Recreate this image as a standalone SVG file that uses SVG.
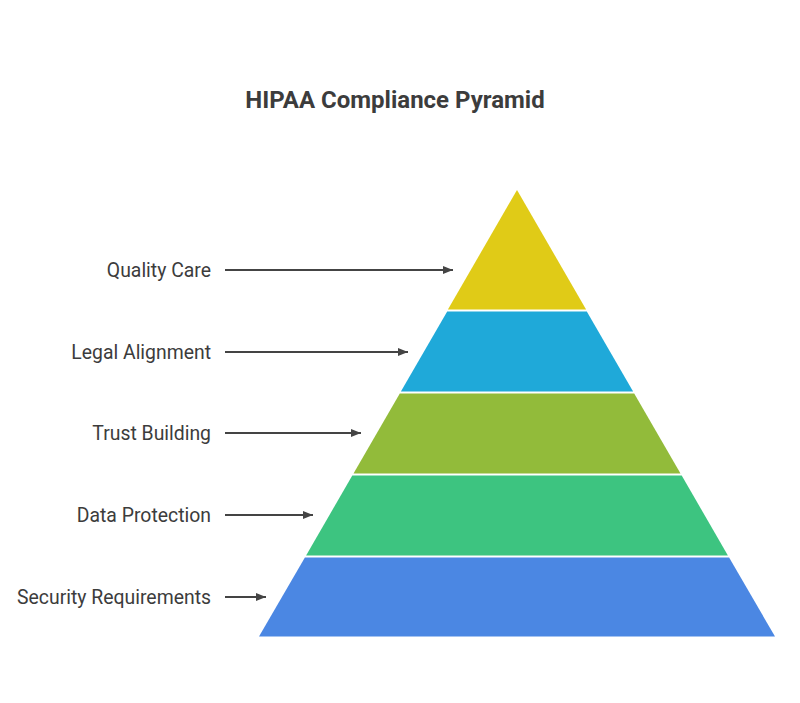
<svg xmlns="http://www.w3.org/2000/svg" width="800" height="703" viewBox="0 0 800 703">
<defs>
<style>
.title{font-family:Roboto,"Liberation Sans",sans-serif;font-weight:bold;font-size:24px;fill:#3c3c3c;text-anchor:middle}
.lbl{font-family:Roboto,"Liberation Sans",sans-serif;font-size:19.4px;fill:#3c3c3c;text-anchor:end}
.conn{stroke:#444;stroke-width:2;fill:none;marker-end:url(#ah)}
</style>
<marker id="ah" viewBox="0 0 10 8" refX="10" refY="4" markerWidth="5.2" markerHeight="4.2" markerUnits="strokeWidth" orient="auto">
<path d="M0,0 L10,4 L0,8 Z" fill="#444"/>
</marker>
</defs>
<rect width="800" height="703" fill="#fff"/>
<text class="title" x="395" y="108">HIPAA Compliance Pyramid</text>
<g id="layer-quality-care">
<polygon points="517,190 586.1,309.5 447.9,309.5" fill="#E0CB17"/>
<text class="lbl" x="211" y="277">Quality Care</text>
</g>
<g id="layer-legal-alignment">
<polygon points="447.2,311.5 586.8,311.5 633.1,391.5 400.9,391.5" fill="#1FA9D9"/>
<text class="lbl" x="211" y="359">Legal Alignment</text>
</g>
<g id="layer-trust-building">
<polygon points="399.8,393.5 634.2,393.5 680.5,473.5 353.5,473.5" fill="#92BB3A"/>
<text class="lbl" x="211" y="440">Trust Building</text>
</g>
<g id="layer-data-protection">
<polygon points="352.3,475.5 681.7,475.5 727.9,555.5 306.1,555.5" fill="#3DC480"/>
<text class="lbl" x="211" y="522">Data Protection</text>
</g>
<g id="layer-security-requirements">
<polygon points="304.9,557.5 729.1,557.5 775,636.5 259,636.5" fill="#4B87E3"/>
<text class="lbl" x="211" y="604">Security Requirements</text>
</g>
<g id="connectors">
<line class="conn" x1="225" y1="270" x2="453" y2="270"/>
<line class="conn" x1="225" y1="352" x2="408" y2="352"/>
<line class="conn" x1="225" y1="433" x2="361" y2="433"/>
<line class="conn" x1="225" y1="515" x2="313" y2="515"/>
<line class="conn" x1="225" y1="597" x2="266" y2="597"/>
</g>
</svg>
